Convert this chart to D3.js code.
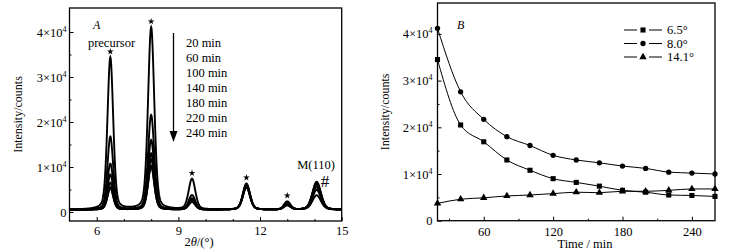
<!DOCTYPE html>
<html>
<head>
<meta charset="utf-8">
<script src="https://cdn.jsdelivr.net/npm/d3@7"></script>
<style>
  body { margin: 0; background: #fff; }
  svg { display: block; font-family: "Liberation Serif", "Times New Roman", serif; }
  .axis path { display: none; }
  .axis line { stroke: #000; stroke-width: 1; }
  .axis text { font-size: 12.5px; fill: #000; font-family: "Liberation Serif", serif; }
</style>
</head>
<body>
<svg id="chart" width="731" height="252"></svg>
<script>
  // ---- panel A data: XRD peaks (height above baseline, counts) per sampling time
  times = ["20 min", "60 min", "100 min", "140 min", "180 min", "220 min", "240 min"];
  peakPos = [6.5, 8.0, 9.5, 11.5, 13.0, 14.08];
  peakFwhm = [0.25, 0.27, 0.29, 0.31, 0.29, 0.37];
  h65 = [33800, 16200, 10200, 7800, 6000, 5000, 4800];
  h80 = [40500, 21000, 15500, 12500, 11200, 9800, 9600];
  h95 = [6800, 3200, 2500, 2200, 2000, 1800, 1700];
  h115 = [5800, 5600, 5500, 5400, 5200, 5000, 5000];
  h130 = [1800, 1400, 1200, 1100, 1000, 1000, 900];
  h141 = [3200, 4400, 5000, 5600, 5800, 6000, 6200];
  baseline = 500;
  starPeaks = [6.5, 8.0, 9.5, 11.5, 13.0];

  // ---- panel B data: peak intensity vs time
  bTime = [20, 40, 60, 80, 100, 120, 140, 160, 180, 200, 220, 240, 260];
  b65 = [34500, 20500, 16900, 13000, 10800, 9000, 8200, 7400, 6500, 6100, 5500, 5400, 5200];
  b80 = [41200, 27600, 21700, 18000, 16100, 14000, 13000, 12400, 11700, 11200, 10400, 10200, 10000];
  b141 = [3700, 4600, 4900, 5300, 5500, 5800, 6100, 6000, 6300, 6300, 6500, 6800, 6800];
  bSeries = [
    { name: "6.5°", values: b65, symbol: d3.symbolSquare, size: 26 },
    { name: "8.0°", values: b80, symbol: d3.symbolCircle, size: 22 },
    { name: "14.1°", values: b141, symbol: d3.symbolTriangle, size: 24 }
  ];

  svg = d3.select("#chart");

  function sciLabels(sel) {
    sel.selectAll(".tick text").each(function(d) {
      var t = d3.select(this).text(null);
      if (d === 0) { t.text("0"); return; }
      t.append("tspan").text((d / 1e4) + "×10");
      t.append("tspan").attr("dy", -5).style("font-size", "8px").text("4");
    });
  }

  // ======== panel A ========
  xA = d3.scaleLinear().domain([5, 15]).range([69.5, 341.7]);
  yA = d3.scaleLinear().domain([0, 40000]).range([212, 32]);
  frameA = { top: 8, bottom: 221 };

  peaksAt = function(i) {
    var hs = [h65[i], h80[i], h95[i], h115[i], h130[i], h141[i]];
    return d3.range(5, 15.001, 0.01).map(function(x) {
      var v = baseline;
      peakPos.forEach(function(p, k) {
        var u = 4 * (x - p) * (x - p) / (peakFwhm[k] * peakFwhm[k]);
        v += hs[k] * (0.3 / (1 + u) + 0.7 * Math.exp(-Math.LN2 * u));
      });
      return [x, v];
    });
  };

  gA = svg.append("g");
  lineA = d3.line().x(function(d) { return xA(d[0]); }).y(function(d) { return yA(d[1]); });
  times.forEach(function(t, i) {
    gA.append("path")
      .attr("d", lineA(peaksAt(i)))
      .attr("fill", "none")
      .attr("stroke", "#000")
      .attr("stroke-width", 1.9);
  });

  gA.append("g").attr("class", "axis")
    .attr("transform", "translate(0," + frameA.bottom + ")")
    .call(d3.axisBottom(xA).tickValues([6, 9, 12, 15]).tickSize(-4).tickPadding(5));
  gA.append("g").attr("class", "axis")
    .attr("transform", "translate(0," + frameA.bottom + ")")
    .call(d3.axisBottom(xA).tickValues([7, 8, 10, 11, 13, 14]).tickSize(-2).tickFormat(""));
  gA.append("g").attr("class", "axis")
    .attr("transform", "translate(" + xA(5) + ",0)")
    .call(d3.axisLeft(yA).tickValues([0, 10000, 20000, 30000, 40000]).tickSize(-4).tickPadding(3))
    .call(sciLabels);
  gA.append("g").attr("class", "axis")
    .attr("transform", "translate(" + xA(5) + ",0)")
    .call(d3.axisLeft(yA).tickValues([5000, 15000, 25000, 35000]).tickSize(-2).tickFormat(""));

  gA.append("rect")
    .attr("x", xA(5)).attr("y", frameA.top)
    .attr("width", xA(15) - xA(5)).attr("height", frameA.bottom - frameA.top)
    .attr("fill", "none").attr("stroke", "#000").attr("stroke-width", 1.3);

  gA.selectAll(".star")
    .data(starPeaks)
    .enter().append("path")
      .attr("d", d3.symbol().type(d3.symbolStar).size(14))
      .attr("transform", function(p) {
        var k = peakPos.indexOf(p);
        var top = d3.max(times, function(t, i) {
          return baseline + [h65, h80, h95, h115, h130, h141][k][i];
        });
        return "translate(" + xA(p) + "," + (yA(top) - 6) + ")";
      });

  gA.append("text").attr("x", xA(14.08) + 4).attr("y", 187)
    .style("font-size", "17px").text("#");
  gA.append("text").attr("x", 316).attr("y", 169).attr("text-anchor", "middle")
    .style("font-size", "12.5px").text("M(110)");
  gA.append("text").attr("x", 93).attr("y", 29)
    .style("font-size", "12px").style("font-style", "italic").text("A");
  gA.append("text").attr("x", 111.5).attr("y", 47).attr("text-anchor", "middle")
    .style("font-size", "12.5px").text("precursor");

  gA.selectAll(".time")
    .data(times)
    .enter().append("text")
      .attr("x", 186)
      .attr("y", function(d, i) { return 47 + i * 15; })
      .style("font-size", "12.5px")
      .text(function(d) { return d; });

  gA.append("line").attr("x1", 173.5).attr("x2", 173.5).attr("y1", 33).attr("y2", 132)
    .attr("stroke", "#000").attr("stroke-width", 1.3);
  gA.append("path").attr("d", "M169.5,131L177.5,131L173.5,142Z").attr("fill", "#000");

  gA.append("text")
    .attr("transform", "translate(22," + ((frameA.top + frameA.bottom) / 2) + ") rotate(-90)")
    .attr("text-anchor", "middle").style("font-size", "12px").text("Intensity/counts");
  xl = gA.append("text").attr("x", 199).attr("y", 246).attr("text-anchor", "middle")
    .style("font-size", "12.5px");
  xl.append("tspan").text("2");
  xl.append("tspan").style("font-style", "italic").text("θ");
  xl.append("tspan").text("/(°)");

  // ======== panel B ========
  xB = d3.scaleLinear().domain([20, 260]).range([437.5, 715]);
  yB = d3.scaleLinear().domain([0, 40000]).range([220.7, 33.9]);
  frameB = { top: 3, bottom: 220.7 };

  gB = svg.append("g");
  gB.append("g").attr("class", "axis")
    .attr("transform", "translate(0," + frameB.bottom + ")")
    .call(d3.axisBottom(xB).tickValues([60, 120, 180, 240]).tickSize(-4).tickPadding(6));
  gB.append("g").attr("class", "axis")
    .attr("transform", "translate(0," + frameB.bottom + ")")
    .call(d3.axisBottom(xB).tickValues([30, 90, 150, 210]).tickSize(-2).tickFormat(""));
  gB.append("g").attr("class", "axis")
    .attr("transform", "translate(" + xB(20) + ",0)")
    .call(d3.axisLeft(yB).tickValues([0, 10000, 20000, 30000, 40000]).tickSize(-4).tickPadding(5))
    .call(sciLabels);
  gB.append("g").attr("class", "axis")
    .attr("transform", "translate(" + xB(20) + ",0)")
    .call(d3.axisLeft(yB).tickValues([5000, 15000, 25000, 35000]).tickSize(-2).tickFormat(""));

  lineB = d3.line()
    .x(function(d, i) { return xB(bTime[i]); })
    .y(function(d) { return yB(d); })
    .curve(d3.curveMonotoneX);

  bSeries.forEach(function(s) {
    gB.append("path").attr("d", lineB(s.values))
      .attr("fill", "none").attr("stroke", "#000").attr("stroke-width", 1);
    gB.selectAll(null)
      .data(s.values)
      .enter().append("path")
        .attr("d", d3.symbol().type(s.symbol).size(s.size))
        .attr("transform", function(d, i) { return "translate(" + xB(bTime[i]) + "," + yB(d) + ")"; });
  });

  gB.append("rect")
    .attr("x", xB(20)).attr("y", frameB.top)
    .attr("width", xB(260) - xB(20)).attr("height", frameB.bottom - frameB.top)
    .attr("fill", "none").attr("stroke", "#000").attr("stroke-width", 1.3);

  legend = gB.selectAll(".leg")
    .data(bSeries)
    .enter().append("g")
      .attr("transform", function(d, i) { return "translate(0," + (30 + i * 13.5) + ")"; });
  legend.append("line").attr("x1", 624).attr("x2", 637).attr("stroke", "#000");
  legend.append("line").attr("x1", 649).attr("x2", 662).attr("stroke", "#000");
  legend.append("path")
    .attr("d", function(d) { return d3.symbol().type(d.symbol).size(d.size)(); })
    .attr("transform", "translate(643,0)");
  legend.append("text").attr("x", 667).attr("y", 4).style("font-size", "12.5px")
    .text(function(d) { return d.name; });

  gB.append("text").attr("x", 457).attr("y", 29)
    .style("font-size", "12px").style("font-style", "italic").text("B");
  gB.append("text")
    .attr("transform", "translate(389," + ((frameB.top + frameB.bottom) / 2) + ") rotate(-90)")
    .attr("text-anchor", "middle").style("font-size", "12px").text("Intensity/counts");
  gB.append("text").attr("x", 585).attr("y", 248).attr("text-anchor", "middle")
    .style("font-size", "12.5px").text("Time / min");
</script>
</body>
</html>
